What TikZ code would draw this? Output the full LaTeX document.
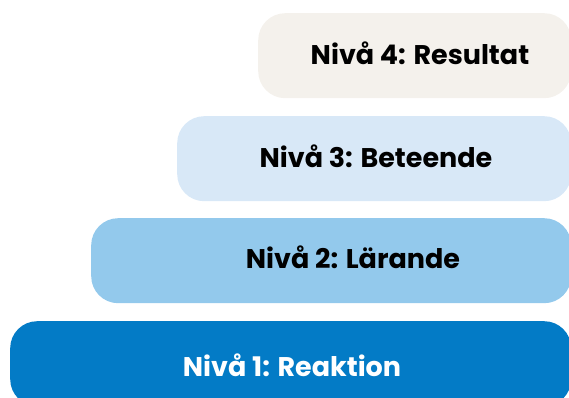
\documentclass[tikz,border=0pt]{standalone}
\usepackage{fontspec}
\setmainfont{Poppins}
\definecolor{lvlfour}{HTML}{F4F1EC}
\definecolor{lvlthree}{HTML}{D8E8F7}
\definecolor{lvltwo}{HTML}{93C9EC}
\definecolor{lvlone}{HTML}{037BC6}
\begin{document}
\begin{tikzpicture}
        [x=1pt, y=-1pt,
        bar/.style={rounded corners=27pt, minimum height=85pt, anchor=north west, inner sep=0pt},
        label/.style={font=\fontsize{27}{32}\selectfont\bfseries, text=black, inner sep=0pt, anchor=base}]

        \useasboundingbox (0,0) rectangle (569,398);
        \clip (0,0) rectangle (569,398);

        % the four steps, top to bottom
        \node[bar, fill=lvlfour, minimum width=313pt] (four) at (258,13) {};
        \node[bar, fill=lvlthree, minimum width=394pt] (three) at (177,116) {};
        \node[bar, fill=lvltwo, minimum width=480pt] (two) at (91,218) {};
        \node[bar, fill=lvlone, minimum width=561pt] (one) at (10,321) {};

        % labels
        \node[label] (fourtext) at (420,64.5) {Nivå 4: Resultat};
        \node[label] (threetext) at (376,167.5) {Nivå 3: Beteende};
        \node[label] (twotext) at (353,268.5) {Nivå 2: Lärande};
        \node[label, text=white] (onetext) at (292,376) {Nivå 1: Reaktion};

\end{tikzpicture}
\end{document}
